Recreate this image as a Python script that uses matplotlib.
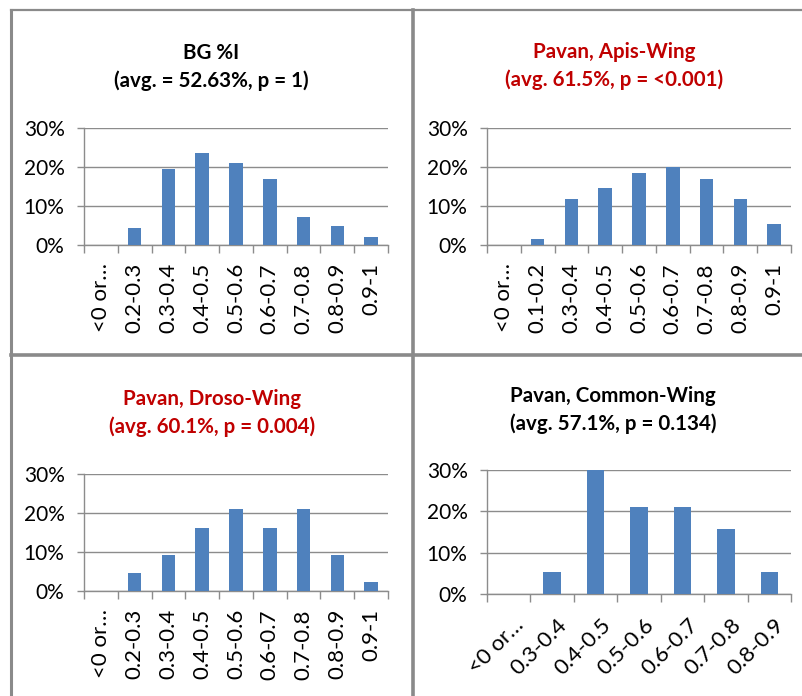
import matplotlib
matplotlib.use("Agg")
import matplotlib.pyplot as plt
from matplotlib.lines import Line2D
from matplotlib.ticker import FixedLocator, PercentFormatter
from matplotlib.transforms import ScaledTranslation
import numpy as np

plt.rcParams['font.family'] = ['Lato', 'DejaVu Sans']

# histogram bins and shares for each panel
bg_bins = ["<0 or…", "0.2-0.3", "0.3-0.4", "0.4-0.5", "0.5-0.6",
           "0.6-0.7", "0.7-0.8", "0.8-0.9", "0.9-1"]
bg_vals = [0.0, 4.35, 19.4, 23.6, 21.0, 17.05, 7.3, 5.0, 2.0]

apis_bins = ["<0 or…", "0.1-0.2", "0.3-0.4", "0.4-0.5", "0.5-0.6",
             "0.6-0.7", "0.7-0.8", "0.8-0.9", "0.9-1"]
apis_vals = [0.0, 1.45, 11.8, 14.5, 18.4, 19.9, 17.05, 11.8, 5.3]

droso_bins = ["<0 or…", "0.2-0.3", "0.3-0.4", "0.4-0.5", "0.5-0.6",
              "0.6-0.7", "0.7-0.8", "0.8-0.9", "0.9-1"]
droso_vals = [0.0, 4.6, 9.2, 16.1, 20.9, 16.1, 20.9, 9.2, 2.4]

common_bins = ["<0 or…", "0.3-0.4", "0.4-0.5", "0.5-0.6", "0.6-0.7",
               "0.7-0.8", "0.8-0.9"]
common_vals = [0.0, 5.26, 30.0, 21.05, 21.05, 15.8, 5.26]

titles = [
    ("BG %I\n(avg. = 52.63%, p = 1)", "black"),
    ("Pavan, Apis-Wing\n(avg. 61.5%, p = <0.001)", "#C00000"),
    ("Pavan, Droso-Wing\n(avg. 60.1%, p = 0.004)", "#C00000"),
    ("Pavan, Common-Wing\n(avg. 57.1%, p = 0.134)", "black"),
]

W, H = 803, 696
BLUE = "#4F81BD"
GRID = "#8C8C8C"
YTICK_FS = 15
XTICK_FS = 16

fig = plt.figure(figsize=(W / 100, H / 100), dpi=100)


def px_axes(left, top, right, bottom):
    return fig.add_axes([left / W, 1 - bottom / H, (right - left) / W, (bottom - top) / H])


def draw_panel(ax, bins, vals, rot):
    x = np.arange(len(bins))
    ax.bar(x, vals, width=0.4, color=BLUE, zorder=3)
    ax.set_xlim(-0.5, len(bins) - 0.5)
    ax.set_ylim(0, 30)
    ax.set_yticks([0, 10, 20, 30])
    ax.yaxis.set_major_formatter(PercentFormatter(decimals=0))
    ax.grid(axis="y", color=GRID, linewidth=1.0, zorder=0)
    for s in ["top", "right"]:
        ax.spines[s].set_visible(False)
    for s in ["left", "bottom"]:
        ax.spines[s].set_color(GRID)
        ax.spines[s].set_linewidth(1.0)
    ax.tick_params(axis="y", length=5, width=1.0, color=GRID, pad=9,
                   labelsize=YTICK_FS, labelcolor="black")
    # tick marks sit between categories, labels at the centres
    ax.xaxis.set_major_locator(FixedLocator(np.arange(len(bins) + 1) - 0.5))
    ax.xaxis.set_minor_locator(FixedLocator(x))
    ax.tick_params(axis="x", which="major", length=6, width=1.0, color=GRID,
                   labelbottom=False)
    ax.tick_params(axis="x", which="minor", length=0, labelsize=XTICK_FS)
    if rot == 90:
        ax.tick_params(axis="x", which="minor", pad=13)
        ax.set_xticklabels(bins, minor=True, rotation=90, ha="center", va="top")
    else:
        ax.tick_params(axis="x", which="minor", pad=15)
        labels = ax.set_xticklabels(bins, minor=True, rotation=45, ha="right",
                                    va="top", rotation_mode="anchor")
        shift = ScaledTranslation(5 / 100, 0, fig.dpi_scale_trans)
        for lab in labels:
            lab.set_transform(lab.get_transform() + shift)


panels = [
    ((84, 128, 388, 245), bg_bins, bg_vals, 90, (211, 67)),
    ((487, 128, 791, 245), apis_bins, apis_vals, 90, (614, 66)),
    ((84, 474, 388, 591), droso_bins, droso_vals, 90, (212, 413)),
    ((487, 470, 791, 594), common_bins, common_vals, 45, (613, 410)),
]

for (box, bins, vals, rot, tpos), (title, tcol) in zip(panels, titles):
    ax = px_axes(*box)
    draw_panel(ax, bins, vals, rot)
    fig.text(tpos[0] / W, 1 - tpos[1] / H, title, ha="center", va="center",
             fontsize=14.8, fontweight="bold", color=tcol, linespacing=1.5)

# frame lines between the four charts
frame = [
    ((11, W), (10, 10), 1.6),
    ((11.5, 11.5), (10, H), 2.2),
    ((413, 413), (10, H), 2.6),
    ((11, W), (355, 355), 2.6),
]
for xs, ys, lw in frame:
    fig.add_artist(Line2D([v / W for v in xs], [1 - v / H for v in ys],
                          color="#8A8A8A", linewidth=lw, transform=fig.transFigure))

fig.savefig("out.png", dpi=100)
